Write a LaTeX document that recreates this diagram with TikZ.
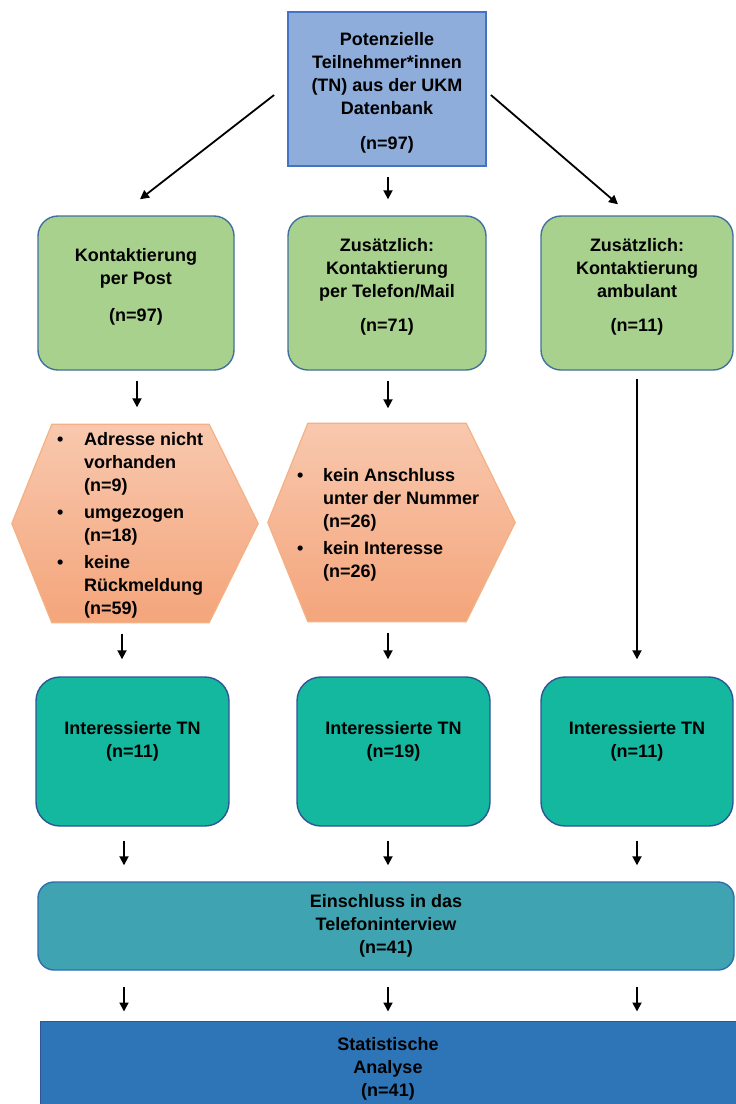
\documentclass[tikz,border=0pt]{standalone}
\usepackage{fontspec}
\setmainfont{Liberation Sans}
\usetikzlibrary{arrows.meta,calc}
\definecolor{topfill}{HTML}{8EADDB}
\definecolor{topline}{HTML}{4472C4}
\definecolor{greenfill}{HTML}{A9D18E}
\definecolor{greenline}{HTML}{41719C}
\definecolor{hextop}{HTML}{F8C8AE}
\definecolor{hexbot}{HTML}{F4A57B}
\definecolor{hexline}{HTML}{F4B183}
\definecolor{tealfill}{HTML}{14B89F}
\definecolor{tealline}{HTML}{2F5597}
\definecolor{einfill}{HTML}{40A3B1}
\definecolor{einline}{HTML}{2E6DB0}
\definecolor{statfill}{HTML}{2E75B8}
\definecolor{statline}{HTML}{2F5597}
\tikzset{
  arr/.style={line width=1.8pt, -{Triangle[length=9pt,width=9pt]}},
  box/.style={inner sep=0pt, line width=1.4pt},
  greenbox/.style={box, draw=greenline, fill=greenfill, rounded corners=20pt, minimum height=154pt},
  tealbox/.style={box, draw=tealline, fill=tealfill, rounded corners=24pt, minimum width=193pt, minimum height=149pt},
  txt/.style={align=center, inner sep=0pt},
  hexbox/.style={inner sep=0pt, minimum width=246pt, minimum height=198pt},
}
\begin{document}
\begin{tikzpicture}[x=1pt,y=-1pt, font=\bfseries\fontsize{18}{23}\selectfont]
\useasboundingbox (0,0) rectangle (736,1104);
\clip (0,0) rectangle (736,1104);

% top
\node[box, draw=topline, fill=topfill, line width=1.8pt, minimum width=198pt, minimum height=154pt] (top) at (387,89) {};
\node[txt] (topT) at (387,92.5) {Potenzielle\\Teilnehmer*innen\\(TN) aus der UKM\\Datenbank\\[12pt](n=97)};

% green row
\node[greenbox, minimum width=196pt] (gL) at (136,293) {};
\node[greenbox, minimum width=198pt] (gM) at (387,293) {};
\node[greenbox, minimum width=192pt] (gR) at (637,293) {};
\node[txt] (gLT) at (136,287) {Kontaktierung\\per Post\\[14pt](n=97)};
\node[txt] (gMT) at (387,286.5) {Zusätzlich:\\Kontaktierung\\per Telefon/Mail\\[11pt](n=71)};
\node[txt] (gRT) at (637,286.5) {Zusätzlich:\\Kontaktierung\\ambulant\\[11pt](n=11)};

% hexagons
\node[hexbox] (hexL) at (135,523.5) {};
\node[hexbox, minimum width=247pt] (hexM) at (391.5,522.5) {};
\foreach \h in {hexL,hexM}{
  \shade[top color=hextop, bottom color=hexbot]
    (\h.west) -- ($(\h.north west)+(40,0)$) -- ($(\h.north east)+(-49,0)$) -- (\h.east)
    -- ($(\h.south east)+(-49,0)$) -- ($(\h.south west)+(40,0)$) -- cycle;
  \draw[hexline, line width=1.2pt]
    (\h.west) -- ($(\h.north west)+(40,0)$) -- ($(\h.north east)+(-49,0)$) -- (\h.east)
    -- ($(\h.south east)+(-49,0)$) -- ($(\h.south west)+(40,0)$) -- cycle;
}
\node[txt, anchor=west] (hexLT) at (57,525) {%
\begin{tabular}{@{}p{27pt}@{}l@{}}
\textbullet & Adresse nicht\\
 & vorhanden\\
 & (n=9)\\[4pt]
\textbullet & umgezogen\\
 & (n=18)\\[4pt]
\textbullet & keine\\
 & Rückmeldung\\
 & (n=59)
\end{tabular}};
\node[txt, anchor=west] (hexMT) at (297,524.5) {%
\begin{tabular}{@{}p{26pt}@{}l@{}}
\textbullet & kein Anschluss\\
 & unter der Nummer\\
 & (n=26)\\[4pt]
\textbullet & kein Interesse\\
 & (n=26)
\end{tabular}};

% teal row
\node[tealbox] (tL) at (132.5,751.5) {};
\node[tealbox] (tM) at (393.5,751.5) {};
\node[tealbox, minimum width=192pt] (tR) at (637,751.5) {};
\node[txt] (tLT) at (132.5,741) {Interessierte TN\\(n=11)};
\node[txt] (tMT) at (393.5,741) {Interessierte TN\\(n=19)};
\node[txt] (tRT) at (637,741) {Interessierte TN\\(n=11)};

% Einschluss
\node[box, draw=einline, fill=einfill, rounded corners=16pt, minimum width=696pt, minimum height=88pt] (ein) at (386,926) {};
\node[txt] (einT) at (386,926) {Einschluss in das\\Telefoninterview\\(n=41)};

% Statistische Analyse
\node[box, draw=statline, fill=statfill, line width=1pt, minimum width=705pt, minimum height=99pt] (stat) at (392.5,1070.5) {};
\node[txt] (statT) at (388,1068.5) {Statistische\\Analyse\\(n=41)};

% arrows
\draw[arr] ($(top.west)+(-13,6)$) -- ($(gL.north)+(4,-16)$);
\draw[arr] ($(top.south)+(1,10)$) -- ($(gM.north)+(1,-16)$);
\draw[arr] ($(top.east)+(4,6)$) -- ($(gR.north)+(-19,-11)$);

\draw[arr] ($(gL.south)+(1,10)$) -- ($(hexL.north)+(2,-17)$);
\draw[arr] ($(gM.south)+(1,10)$) -- ($(hexM.north)+(-3.5,-15)$);
\draw[arr] ($(gR.south)+(0,8)$) -- ($(tR.north)+(0,-17)$);

\draw[arr] ($(hexL.south)+(-13,11)$) -- ($(tL.north)+(-10.5,-17)$);
\draw[arr] ($(hexM.south)+(-3.5,11)$) -- ($(tM.north)+(-5.5,-17)$);

\draw[arr] ($(tL.south)+(-8.5,14)$) -- ($(ein.north)+(-262,-16)$);
\draw[arr] ($(tM.south)+(-5.5,14)$) -- ($(ein.north)+(2,-16)$);
\draw[arr] ($(tR.south)+(0,14)$) -- ($(ein.north)+(251,-16)$);

\draw[arr] ($(ein.south)+(-262,16)$) -- ($(stat.north)+(-268.5,-9)$);
\draw[arr] ($(ein.south)+(2,16)$) -- ($(stat.north)+(-4.5,-9)$);
\draw[arr] ($(ein.south)+(251,16)$) -- ($(stat.north)+(244.5,-9)$);
\end{tikzpicture}
\end{document}
